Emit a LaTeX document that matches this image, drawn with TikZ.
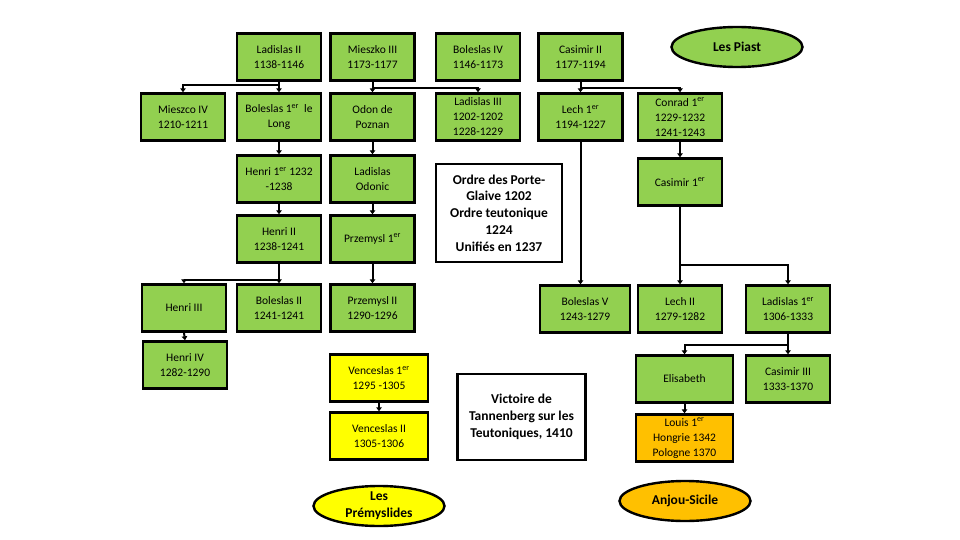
\documentclass[tikz,border=0pt]{standalone}
\usepackage{fontspec}
\setmainfont{Carlito}
\usetikzlibrary{arrows.meta,shapes.geometric}
\definecolor{pgreen}{HTML}{92D050}
\definecolor{pyellow}{HTML}{FFFF00}
\definecolor{porange}{HTML}{FFC000}
\newcommand{\er}{\textsuperscript{er}}
\begin{document}
\begin{tikzpicture}[x=1pt,y=-1pt,
  box/.style={draw=black, line width=2.4pt, fill=pgreen, minimum width=84pt, minimum height=47pt,
    inner sep=0pt, align=center, font=\fontsize{11.5}{15}\selectfont},
  ybox/.style={box, fill=pyellow, minimum width=98pt},
  obox/.style={box, fill=porange, minimum width=97pt},
  wbox/.style={draw=black, line width=2.4pt, fill=white, inner sep=0pt, align=center,
    font=\bfseries\fontsize{13.5}{16.8}\selectfont},
  oval/.style={ellipse, draw=black, line width=2.4pt, inner sep=0pt, align=center,
    minimum width=131pt, minimum height=40pt, font=\bfseries\fontsize{13.5}{16.8}\selectfont},
  conn/.style={draw=black, line width=2pt, -{Triangle[length=4pt,width=5.5pt]}}
]
\useasboundingbox (0,0) rectangle (960,540);
\fill[white] (0,0) rectangle (960,540);

% row 1
\node[box] (L2) at (279,57) {Ladislas II\\1138-1146};
\node[box] (M3) at (372.5,57) {Mieszko III\\1173-1177};
\node[box] (B4) at (478,57) {Boleslas IV\\1146-1173};
\node[box] (C2) at (580.5,57) {Casimir II\\1177-1194};
\node[oval, fill=pgreen] (Piast) at (737,47) {Les Piast};

% row 2
\node[box] (M4) at (183,117) {Mieszco IV\\1210-1211};
\node[box] (BlL) at (279,117) {Boleslas 1\er~ le\\Long};
\node[box] (Odon) at (372.5,117) {Odon de\\Poznan};
\node[box] (L3) at (478,117) {Ladislas III\\1202-1202\\1228-1229};
\node[box] (Lech1) at (580.5,117) {Lech 1\er\\1194-1227};
\node[box] (Con) at (680,117) {Conrad 1\er\\1229-1232\\1241-1243};

% row 3
\node[box] (H1) at (279,179) {Henri 1\er{} 1232\\-1238};
\node[box] (Odc) at (372.5,179) {Ladislas\\Odonic};
\node[wbox, minimum width=126pt, minimum height=98pt] (Ordre) at (499,213)
  {Ordre des Porte-\\Glaive 1202\\Ordre teutonique\\1224\\Unifiés en 1237};
\node[box] (Cas1) at (680,182) {Casimir 1\er};

% row 4
\node[box] (H2) at (279,239) {Henri II\\1238-1241};
\node[box] (P1) at (372.5,239) {Przemysl 1\er};

% row 5
\node[box] (H3) at (184,308) {Henri III};
\node[box] (Bo2) at (279,308) {Boleslas II\\1241-1241};
\node[box] (P2) at (372.5,308) {Przemysl II\\1290-1296};
\node[box, minimum width=90pt] (BoV) at (585,309) {Boleslas V\\1243-1279};
\node[box] (Le2) at (680,309) {Lech II\\1279-1282};
\node[box] (La1) at (788,309) {Ladislas 1\er\\1306-1333};

% lower part
\node[box] (H4) at (185,365) {Henri IV\\1282-1290};
\node[ybox] (V1) at (379,378) {Venceslas 1\er\\1295 -1305};
\node[ybox] (V2) at (379,436) {Venceslas II\\1305-1306};
\node[oval, fill=pyellow] (Prem) at (379,506) {Les\\Prémyslides};
\node[wbox, minimum width=128pt, minimum height=86pt] (Vic) at (521.5,417)
  {Victoire de\\Tannenberg sur les\\Teutoniques, 1410};
\node[box, minimum width=97pt] (Eli) at (684.5,379) {Elisabeth};
\node[box] (C3) at (788,379) {Casimir III\\1333-1370};
\node[obox] (Lou) at (684.5,438) {Louis 1\er\\Hongrie 1342\\Pologne 1370};
\node[oval, fill=porange] (Anj) at (685,501) {Anjou-Sicile};

% connectors
\draw[conn] (L2.south) -- ++(0,3) -| (M4.north);
\draw[conn] (L2.south) -- (BlL.north);
\draw[conn] (M3.south) -- ++(0,6) -| (L3.north);
\draw[conn] (M3.south) -- (Odon.north);
\draw[conn] (C2.south) -- ++(0,6) -| (Con.north);
\draw[conn] (C2.south) -- (Lech1.north);
\draw[conn] (BlL.south) -- (H1.north);
\draw[conn] (Odon.south) -- (Odc.north);
\draw[conn] (H1.south) -- (H2.north);
\draw[conn] (Odc.south) -- (P1.north);
\draw[conn] (P1.south) -- (P2.north);
\draw[conn] (Con.south) -- (Cas1.north);
\draw[conn] (Lech1.south) -- (Lech1.south |- BoV.north);
\draw[conn] (H2.south) -- ++(0,16) -| (H3.north);
\draw[conn] (H2.south) -- (Bo2.north);
\draw[conn] (Cas1.south) -- ++(0,58) -| (La1.north);
\draw[conn] (Cas1.south) -- (Le2.north);
\draw[conn] (H3.south) -- (H4.north);
\draw[conn] (La1.south) -- ++(0,11) -| (Eli.north);
\draw[conn] (La1.south) -- (C3.north);
\draw[conn] (V1.south) -- (V2.north);
\draw[conn] (Eli.south) -- (Lou.north);
\end{tikzpicture}
\end{document}
